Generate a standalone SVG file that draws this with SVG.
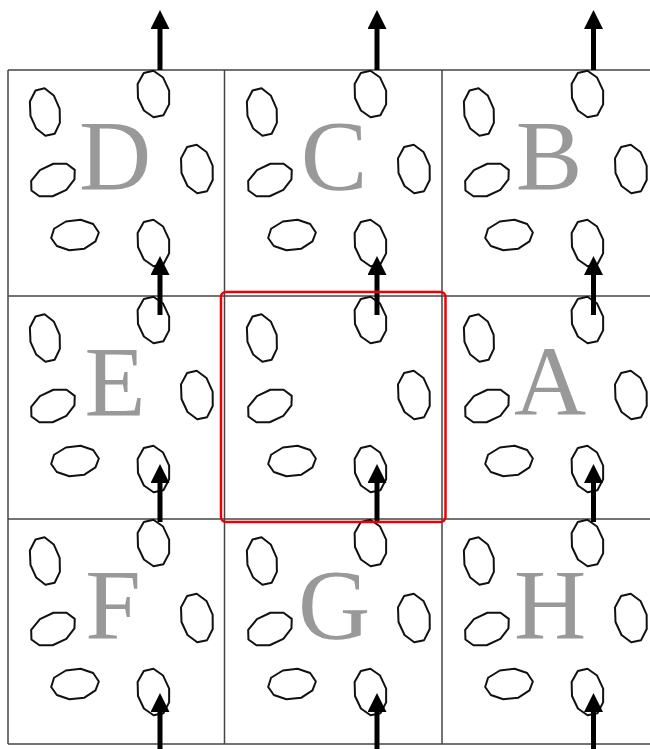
<svg xmlns="http://www.w3.org/2000/svg" xmlns:xlink="http://www.w3.org/1999/xlink" width="650" height="749" viewBox="0 0 650 749">
<style>
.grid{stroke:#444;stroke-width:1.5;fill:none}
.blob{fill:none;stroke:#111;stroke-width:2;stroke-linejoin:round}
.lbl{font-family:"Liberation Serif","Times New Roman",serif;font-size:100px;fill:#999;text-anchor:middle}
.arr{stroke:#000;stroke-width:5;fill:none}
</style>
<defs>
<marker id="ah" viewBox="0 0 19 19" markerWidth="19" markerHeight="19" markerUnits="userSpaceOnUse" refX="1" refY="9.5" orient="auto">
<path d="M0,0 L19,9.5 L0,19 z" fill="#000"/>
</marker>
<path id="poly" vector-effect="non-scaling-stroke" d="M1,0 L0.82,0.57 L0.33,0.97 L-0.3,0.97 L-0.8,0.6 L-1,0.03 L-0.84,-0.56 L-0.32,-0.96 L0.3,-0.97 L0.8,-0.6 Z"/>
<g id="blobs">
<use href="#poly" xlink:href="#poly" class="blob" transform="translate(37 42) rotate(-12) scale(15 24)"/>
<use href="#poly" xlink:href="#poly" class="blob" transform="translate(145.5 24) rotate(-12) scale(16 23.5)"/>
<use href="#poly" xlink:href="#poly" class="blob" transform="translate(189 99) rotate(-12) scale(16 24.5)"/>
<use href="#poly" xlink:href="#poly" class="blob" transform="translate(45 110) rotate(-25) scale(24 15)"/>
<use href="#poly" xlink:href="#poly" class="blob" transform="translate(67 165) rotate(-6) scale(24 15)"/>
<use href="#poly" xlink:href="#poly" class="blob" transform="translate(145.5 173) rotate(-12) scale(16 23.5)"/>
</g>
</defs>
<rect width="650" height="749" fill="#fff"/>
<g id="grid" class="grid">
<line x1="8" y1="70" x2="650" y2="70"/>
<line x1="8" y1="296" x2="650" y2="296"/>
<line x1="8" y1="519" x2="650" y2="519"/>
<line x1="8" y1="744" x2="650" y2="744"/>
<line x1="8" y1="70" x2="8" y2="744"/>
<line x1="224.5" y1="70" x2="224.5" y2="744"/>
<line x1="442" y1="70" x2="442" y2="744"/>
</g>
<g id="cell-D"><use xlink:href="#blobs" href="#blobs" transform="translate(8,70)"/><text class="lbl" x="115" y="189">D</text></g>
<g id="cell-C"><use xlink:href="#blobs" href="#blobs" transform="translate(225,70)"/><text class="lbl" x="334" y="189">C</text></g>
<g id="cell-B"><use xlink:href="#blobs" href="#blobs" transform="translate(442,70)"/><text class="lbl" x="549" y="189">B</text></g>
<g id="cell-E"><use xlink:href="#blobs" href="#blobs" transform="translate(8,296)"/><text class="lbl" x="115" y="415">E</text></g>
<g id="cell-center"><use xlink:href="#blobs" href="#blobs" transform="translate(225,296)"/></g>
<g id="cell-A"><use xlink:href="#blobs" href="#blobs" transform="translate(442,296)"/><text class="lbl" x="550" y="415">A</text></g>
<g id="cell-F"><use xlink:href="#blobs" href="#blobs" transform="translate(8,519)"/><text class="lbl" x="113" y="638">F</text></g>
<g id="cell-G"><use xlink:href="#blobs" href="#blobs" transform="translate(225,519)"/><text class="lbl" x="334" y="638">G</text></g>
<g id="cell-H"><use xlink:href="#blobs" href="#blobs" transform="translate(442,519)"/><text class="lbl" x="550" y="638">H</text></g>
<g id="connectors" class="arr">
<line x1="160" y1="70" x2="160" y2="28" marker-end="url(#ah)"/>
<line x1="377" y1="70" x2="377" y2="28" marker-end="url(#ah)"/>
<line x1="593.5" y1="70" x2="593.5" y2="28" marker-end="url(#ah)"/>
<line x1="160" y1="315" x2="160" y2="274" marker-end="url(#ah)"/>
<line x1="377" y1="315" x2="377" y2="274" marker-end="url(#ah)"/>
<line x1="593.5" y1="315" x2="593.5" y2="274" marker-end="url(#ah)"/>
<line x1="160" y1="522" x2="160" y2="482" marker-end="url(#ah)"/>
<line x1="377" y1="522" x2="377" y2="482" marker-end="url(#ah)"/>
<line x1="593.5" y1="522" x2="593.5" y2="482" marker-end="url(#ah)"/>
<line x1="160" y1="749" x2="160" y2="711" marker-end="url(#ah)"/>
<line x1="377" y1="749" x2="377" y2="711" marker-end="url(#ah)"/>
<line x1="593.5" y1="749" x2="593.5" y2="711" marker-end="url(#ah)"/>
</g>
<g id="highlight"><rect x="221" y="292" width="224.5" height="230" rx="5" fill="none" stroke="#e00" stroke-width="2.5"/></g>
</svg>
